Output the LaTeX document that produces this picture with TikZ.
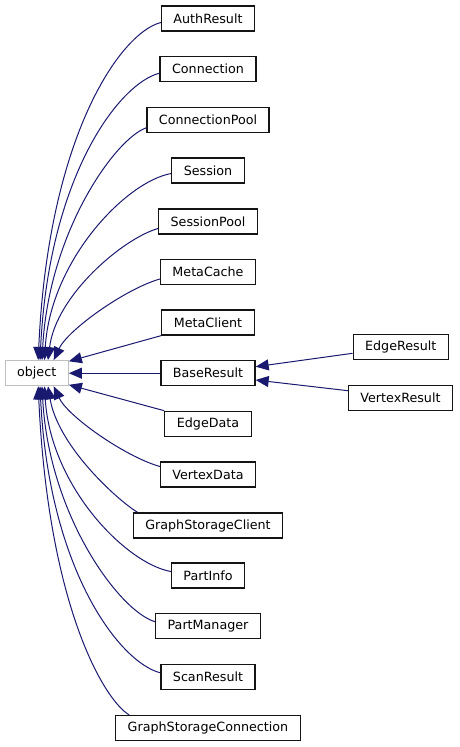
\documentclass[tikz,border=0pt]{standalone}
\usepackage{fontspec}
\setmainfont{DejaVu Sans}
\usetikzlibrary{arrows.meta,calc}
\definecolor{edgeblue}{RGB}{25,25,112}
\definecolor{boxline}{RGB}{20,20,20}
\definecolor{rootline}{RGB}{191,191,191}
\tikzset{
  cls/.style={draw=boxline, line width=1.2pt, fill=white, minimum height=25pt, inner xsep=12pt, inner ysep=0pt, font=\fontsize{12.7}{15}\selectfont},
  rootcls/.style={cls, draw=rootline},
  inh/.style={draw=edgeblue, line width=1pt, -{Triangle[length=13pt,width=11pt]}, fill=none},
}
\begin{document}
\begin{tikzpicture}[x=1pt,y=-1pt]
\useasboundingbox (0,0) rectangle (459,747);
\node[rootcls] (object) at (36.7,373.2) {object};
\node[cls] (AuthResult) at (208,18.5) {AuthResult};
\node[cls] (Connection) at (208,69.2) {Connection};
\node[cls] (ConnectionPool) at (208,119.8) {ConnectionPool};
\node[cls] (Session) at (208,170.5) {Session};
\node[cls] (SessionPool) at (208,221.5) {SessionPool};
\node[cls] (MetaCache) at (208,272) {MetaCache};
\node[cls] (MetaClient) at (208,322.5) {MetaClient};
\node[cls] (BaseResult) at (208,373.2) {BaseResult};
\node[cls] (EdgeData) at (208,423.8) {EdgeData};
\node[cls] (VertexData) at (208,474.5) {VertexData};
\node[cls] (GraphStorageClient) at (208,525.5) {GraphStorageClient};
\node[cls] (PartInfo) at (208,575.5) {PartInfo};
\node[cls] (PartManager) at (208,626.2) {PartManager};
\node[cls] (ScanResult) at (208,676.8) {ScanResult};
\node[cls] (GraphStorageConnection) at (208,728) {GraphStorageConnection};
\node[cls] (EdgeResult) at (400.7,347) {EdgeResult};
\node[cls] (VertexResult) at (400.5,398.2) {VertexResult};
% upper fan
\draw[inh] ($(AuthResult.west)+(0,4)$) .. controls +(-40,10) and +(10,-225) .. ($(object.north)+(1.5,0)$);
\draw[inh] ($(Connection.west)+(0,4)$) .. controls +(-40,10) and +(9,-185) .. ($(object.north)+(3.3,0)$);
\draw[inh] ($(ConnectionPool.west)+(0,8)$) .. controls +(-30,10) and +(7,-130) .. ($(object.north)+(5.3,0)$);
\draw[inh] ($(Session.west)+(0,3)$) .. controls +(-45,8) and +(6,-100) .. ($(object.north)+(7.8,0)$);
\draw[inh] ($(SessionPool.west)+(0,7)$) .. controls +(-35,10) and +(8,-65) .. ($(object.north)+(11.3,0)$);
\draw[inh] ($(MetaCache.west)+(0,7)$) .. controls +(-35,10) and +(14,-30) .. ($(object.north)+(17,0)$);
% middle
\draw[inh] (MetaClient.south west) -- ($(object.north east)+(0,1.2)$);
\draw[inh] (BaseResult.west) -- (object.east);
\draw[inh] (EdgeData.north west) -- ($(object.south east)+(0,-1.5)$);
% lower fan
\draw[inh] ($(VertexData.west)+(0,-8)$) .. controls +(-35,-10) and +(14,30) .. ($(object.south)+(17,0)$);
\draw[inh] ($(GraphStorageClient.north west)+(5,0)$) .. controls +(-20,-12) and +(10,60) .. ($(object.south)+(11.3,0)$);
\draw[inh] ($(PartInfo.west)+(0,-4)$) .. controls +(-45,-8) and +(6,100) .. ($(object.south)+(7.8,0)$);
\draw[inh] ($(PartManager.west)+(0,-4.5)$) .. controls +(-35,-10) and +(7,130) .. ($(object.south)+(5.3,0)$);
\draw[inh] ($(ScanResult.west)+(0,-4)$) .. controls +(-40,-10) and +(9,185) .. ($(object.south)+(3.3,0)$);
\draw[inh] ($(GraphStorageConnection.north west)+(14,0)$) .. controls +(-25,-15) and +(10,220) .. ($(object.south)+(1.5,0)$);
% BaseResult children
\draw[inh] ($(EdgeResult.west)+(0,6.3)$) -- ($(BaseResult.east)+(0,-6.5)$);
\draw[inh] ($(VertexResult.west)+(0,-7.5)$) -- ($(BaseResult.east)+(0,6.8)$);
\end{tikzpicture}
\end{document}
